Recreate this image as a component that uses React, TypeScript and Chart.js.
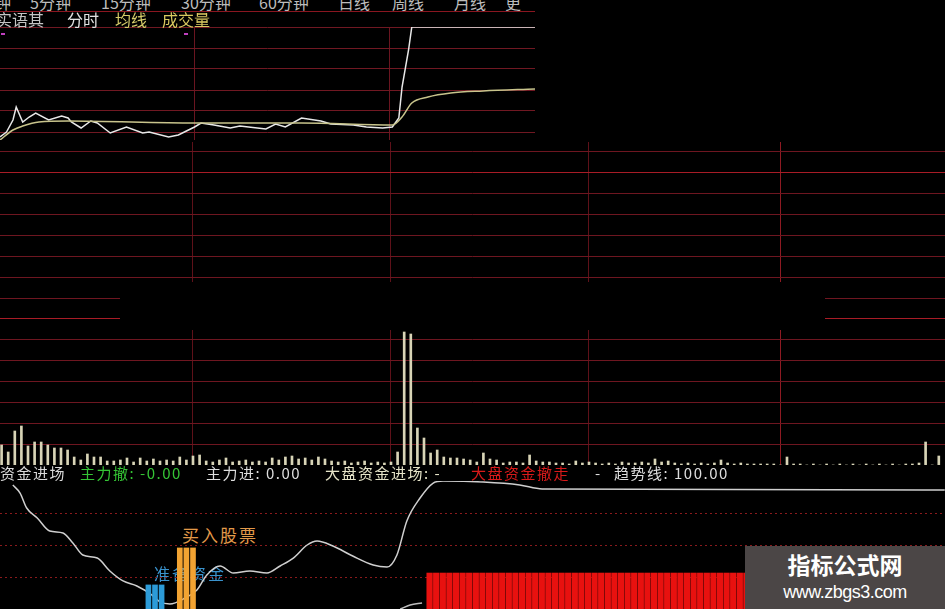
import React, { useEffect, useRef } from "react";
import { Chart, registerables } from "chart.js";
Chart.register(...registerables);

// ---------------- data ----------------
const TOP_TABS = ["钟", "5分钟", "15分钟", "30分钟", "60分钟", "日线", "周线", "月线", "更"];
const SUB_TABS = ["实语其", "分时", "均线", "成交量"];

// intraday price (minutes, price)
const PRICE_TIME = [0, 2, 4, 5, 7, 9, 11, 15, 19, 21, 22, 25, 28, 30, 34, 39, 44, 46, 52, 55, 60, 62, 66, 71, 74, 82, 85, 88, 93, 99, 102, 109, 113, 118, 121, 123, 124, 126, 127, 165];
const PRICE = [9.95, 10.0, 10.12, 10.25, 10.1, 10.15, 10.19, 10.12, 10.16, 10.14, 10.1, 10.04, 10.11, 10.09, 9.99, 10.05, 9.99, 10.0, 9.95, 9.97, 10.05, 10.09, 10.07, 10.04, 10.06, 10.03, 10.08, 10.05, 10.14, 10.11, 10.08, 10.07, 10.05, 10.04, 10.05, 10.14, 10.45, 10.82, 11.05, 11.05];
const AVG_TIME = [0, 4, 7, 12, 21, 60, 93, 121, 124, 127, 132, 139, 149, 165];
const AVG_PRICE = [9.92, 10.02, 10.06, 10.1, 10.11, 10.09, 10.09, 10.07, 10.15, 10.29, 10.35, 10.39, 10.41, 10.43];
const PRICE_GRID = [10.0, 10.21, 10.42, 10.63, 10.84, 11.05];
const TIME_GRID = [60, 120];

// volume bars, bar index 1..143
const VOLUME = [
  20, 13, 34, 39, 19, 23, 23, 20, 17, 17,
  15, 8, 5, 11, 8, 8, 4, 4, 5, 7,
  3, 7, 4, 6, 4, 5, 4, 8, 5, 9,
  10, 4, 3, 5, 7, 3, 4, 5, 3, 4,
  3, 7, 5, 8, 9, 6, 7, 5, 8, 6,
  4, 3, 4, 2, 3, 4, 2, 3, 2, 3,
  13, 133, 131, 37, 27, 12, 15, 8, 7, 7,
  6, 5, 3, 12, 6, 5, 2, 3, 3, 2,
  10, 4, 3, 3, 2, 2, 1, 4, 2, 3,
  2, 1, 2, 1, 3, 2, 2, 3, 2, 6,
  3, 4, 2, 1, 2, 1, 2, 1, 2, 5,
  2, 1, 2, 1, 1, 1, 1, 1, 0, 8,
  1, 1, 0, 1, 0, 1, 0, 1, 0, 1,
  0, 1, 0, 1, 0, 1, 0, 1, 1, 2,
  23, 0, 9,
];
const BAR_GRID = [30, 60, 90, 119];
const VOL_GRID_STEP = 20.87;
const VOL_GRID_COUNT = 15;

// indicator panel
const TREND_X = [2.7, 3.8, 4.8, 6.4, 8.3, 10.3, 11.8, 13.3, 15.5, 17.4, 19.4, 21.5, 23.8, 25.0, 26.5, 28.8, 30.6, 32.1, 34.1, 36.1, 38.6, 41.2, 43.2, 45.2, 47.3, 48.8, 51.2, 54.2, 57.3, 59.4, 60.9, 62.4, 64.4, 66.4, 67.9, 74.0, 79.5, 82.9, 143.9];
const TREND_Y = [96.9, 90.6, 78.9, 71.1, 60.9, 59.4, 51.6, 42.2, 39.8, 29.7, 21.9, 18.0, 10.9, 5.5, 3.9, 8.6, 14.8, 26.6, 33.6, 28.1, 29.7, 28.1, 33.6, 39.8, 50.0, 53.1, 49.2, 41.4, 34.4, 32.8, 42.2, 68.8, 86.7, 98.4, 100, 99.2, 96.9, 93.8, 93.0];
const TAIL_X = [61.4, 62.9, 64.7];
const TAIL_Y = [0, 3.1, 4.7];
const PREP_X = [24, 25, 26];
const PREP_Y = [18.8, 18.8, 18.8];
const BUY_X = [28, 29, 30];
const BUY_Y = [47.7, 47.7, 47.7];
const EXIT_FIRST = 65;
const EXIT_LAST = 115;
const EXIT_LEVEL = 28.1;
const IND_GRID = [25, 50, 75];

const BOTTOM_LABELS = ["资金进场", "主力撤: -0.00", "主力进: 0.00", "大盘资金进场: -", "大盘资金撤走", "-", "趋势线: 100.00"];

// ---------------- helpers ----------------
const FONT = '"Noto Sans CJK SC", "Noto Sans", sans-serif';

function ChartCanvas({ width, height, left, top, build }: any) {
  const ref = useRef<HTMLCanvasElement>(null);
  useEffect(() => {
    const chart = new Chart(ref.current as HTMLCanvasElement, build());
    return () => chart.destroy();
  }, []);
  return (
    <canvas
      ref={ref}
      width={width}
      height={height}
      style={{ position: "absolute", left, top, width, height }}
    />
  );
}

function Label({ text, left, top, size, color, bold, spacing, family }: any) {
  return (
    <div
      style={{
        position: "absolute",
        left,
        top,
        fontSize: size,
        lineHeight: 1,
        color,
        whiteSpace: "nowrap",
        fontWeight: bold ? 700 : 400,
        letterSpacing: spacing || 0,
        fontFamily: family || FONT,
      }}
    >
      {text}
    </div>
  );
}

const baseOpts = {
  animation: false,
  responsive: false,
  maintainAspectRatio: false,
  plugins: { legend: { display: false }, tooltip: { enabled: false }, title: { display: false } },
};

function priceConfig() {
  return {
    type: "line",
    data: {
      datasets: [
        {
          data: AVG_TIME.map((t, i) => ({ x: t, y: AVG_PRICE[i] })),
          borderColor: "#c8c48c",
          borderWidth: 1.5,
          pointRadius: 0,
          cubicInterpolationMode: "monotone",
        },
        {
          data: PRICE_TIME.map((t, i) => ({ x: t, y: PRICE[i] })),
          borderColor: "#e8e8e8",
          borderWidth: 1.5,
          pointRadius: 0,
          tension: 0,
        },
      ],
    },
    options: {
      ...baseOpts,
      layout: { padding: { top: 27, bottom: 2, left: 0, right: 0 } },
      scales: {
        x: {
          type: "linear",
          min: 0,
          max: 165,
          ticks: { display: false },
          grid: { color: "#6a1520", drawTicks: false },
          border: { display: false },
          afterBuildTicks: (s: any) => {
            s.ticks = TIME_GRID.map((v) => ({ value: v }));
          },
        },
        y: {
          type: "linear",
          min: 9.92,
          max: 11.05,
          ticks: { display: false },
          grid: { color: "#701822", drawTicks: false },
          border: { display: false },
          afterBuildTicks: (s: any) => {
            s.ticks = PRICE_GRID.map((v) => ({ value: v }));
          },
        },
      },
    },
  };
}

function volumeConfig() {
  const volGrid: number[] = [];
  for (let k = 1; k <= VOL_GRID_COUNT; k++) volGrid.push(VOL_GRID_STEP * k);
  return {
    type: "bar",
    data: {
      datasets: [
        {
          data: VOLUME.map((v, i) => ({ x: i + 1, y: v })),
          backgroundColor: "#d8d4b6",
          borderWidth: 0,
          barThickness: 2,
        },
      ],
    },
    options: {
      ...baseOpts,
      layout: { padding: { top: 2, bottom: 5, left: 0, right: 0 } },
      scales: {
        x: {
          type: "linear",
          min: 0.758,
          max: 143.94,
          offset: false,
          ticks: { display: false },
          grid: {
            color: (c: any) => (c.index === 3 ? "#8e1a22" : "#5e1119"),
            drawTicks: false,
            offset: false,
          },
          border: { display: false },
          afterBuildTicks: (s: any) => {
            s.ticks = BAR_GRID.map((v) => ({ value: v }));
          },
        },
        y: {
          type: "linear",
          min: 0,
          max: 323,
          ticks: { display: false },
          grid: {
            color: (c: any) => (c.index === 6 || c.index === 13 ? "#a81c26" : "#6e1620"),
            drawTicks: false,
          },
          border: { display: false },
          afterBuildTicks: (s: any) => {
            s.ticks = volGrid.map((v) => ({ value: v }));
          },
        },
      },
    },
  };
}

function indicatorConfig() {
  const exitPts: any[] = [];
  for (let i = EXIT_FIRST; i <= EXIT_LAST; i++) exitPts.push({ x: i, y: EXIT_LEVEL });
  return {
    type: "bar",
    data: {
      datasets: [
        {
          type: "line",
          data: TREND_X.map((x, i) => ({ x, y: TREND_Y[i] })),
          borderColor: "#cfcfcf",
          borderWidth: 1.5,
          pointRadius: 0,
          cubicInterpolationMode: "monotone",
          order: 2,
        },
        {
          type: "line",
          data: TAIL_X.map((x, i) => ({ x, y: TAIL_Y[i] })),
          borderColor: "#bdbdbd",
          borderWidth: 1.5,
          pointRadius: 0,
          cubicInterpolationMode: "monotone",
          order: 2,
        },
        {
          data: PREP_X.map((x, i) => ({ x, y: PREP_Y[i] })),
          backgroundColor: "#2c9bd8",
          barThickness: 5,
          borderWidth: 0,
          order: 1,
        },
        {
          data: BUY_X.map((x, i) => ({ x, y: BUY_Y[i] })),
          backgroundColor: "#f2a332",
          barThickness: 5,
          borderWidth: 0,
          order: 1,
        },
        {
          data: exitPts,
          backgroundColor: "#e8110f",
          barThickness: 5.6,
          borderWidth: 0,
          order: 1,
        },
      ],
    },
    options: {
      ...baseOpts,
      layout: { padding: { top: 3, bottom: 0, left: 0, right: 0 } },
      scales: {
        x: {
          type: "linear",
          min: 0.758,
          max: 143.94,
          offset: false,
          ticks: { display: false },
          grid: { display: false, drawTicks: false },
          border: { display: false },
        },
        y: {
          type: "linear",
          min: 0,
          max: 100,
          ticks: { display: false },
          grid: { color: "#8a1a1c", drawTicks: false },
          border: { display: false, dash: [2, 3] },
          afterBuildTicks: (s: any) => {
            s.ticks = IND_GRID.map((v) => ({ value: v }));
          },
        },
      },
    },
  };
}

// ---------------- layout ----------------
const TOP_TAB_LEFT = [-5, 30, 101, 181, 259, 338, 392, 454, 505];
const SUB_TAB_LEFT = [-4, 67, 115, 162];
const SUB_TAB_COLOR = ["#c4c4c4", "#e2e2e2", "#d6cc6a", "#d8c860"];
const BOTTOM_LEFT = [0, 80, 206, 325, 471, 595, 614];
const BOTTOM_COLOR = ["#dadada", "#35c435", "#dedede", "#e6e4c8", "#d81a1a", "#dedede", "#dedede"];

export default function App() {
  return (
    <div
      style={{
        position: "fixed",
        left: 0,
        top: 0,
        width: 945,
        height: 609,
        background: "#000",
        overflow: "hidden",
        fontFamily: FONT,
      }}
    >
      {/* top tab row */}
      {TOP_TABS.map((t, i) => (
        <Label key={"t" + i} text={t} left={TOP_TAB_LEFT[i]} top={-6} size={16} color="#bcbcbc" />
      ))}
      <div style={{ position: "absolute", left: 0, top: 11, width: 535, height: 1, background: "#8a1620" }} />

      {/* price panel */}
      <ChartCanvas width={535} height={142} left={0} top={0} build={priceConfig} />
      {SUB_TABS.map((t, i) => (
        <Label key={"s" + i} text={t} left={SUB_TAB_LEFT[i]} top={11} size={16} color={SUB_TAB_COLOR[i]} />
      ))}
      <div style={{ position: "absolute", left: 1, top: 33, width: 4, height: 2, background: "#c040c0" }} />
      <div style={{ position: "absolute", left: 184, top: 33, width: 4, height: 2, background: "#c040c0" }} />

      {/* volume / grid panel */}
      <ChartCanvas width={945} height={330} left={0} top={140} build={volumeConfig} />
      <div style={{ position: "absolute", left: 120, top: 282, width: 705, height: 48, background: "#000" }} />

      {/* indicator labels */}
      {BOTTOM_LABELS.map((t, i) => (
        <Label key={"b" + i} text={t} left={BOTTOM_LEFT[i]} top={465} size={15} spacing={1.5} color={BOTTOM_COLOR[i]} />
      ))}
      <Label text="买入股票" left={182} top={526} size={17} spacing={2} color="#e39a4a" />
      <Label text="准备资金" left={154} top={565} size={16} spacing={2} color="#3a92cc" />

      {/* indicator panel */}
      <ChartCanvas width={945} height={131} left={0} top={478} build={indicatorConfig} />

      {/* watermark */}
      <div style={{ position: "absolute", left: 745, top: 546, width: 200, height: 63, background: "#4b4646" }}>
        <div style={{ position: "absolute", left: 0, top: 7, width: 200, textAlign: "center", color: "#fff", fontSize: 23, fontWeight: 700, lineHeight: 1 }}>
          指标公式网
        </div>
        <div style={{ position: "absolute", left: 0, top: 37, width: 200, textAlign: "center", color: "#fff", fontSize: 18, lineHeight: 1, fontFamily: '"Liberation Sans", Arial, sans-serif', letterSpacing: -0.5 }}>
          www.zbgs3.com
        </div>
      </div>
    </div>
  );
}
